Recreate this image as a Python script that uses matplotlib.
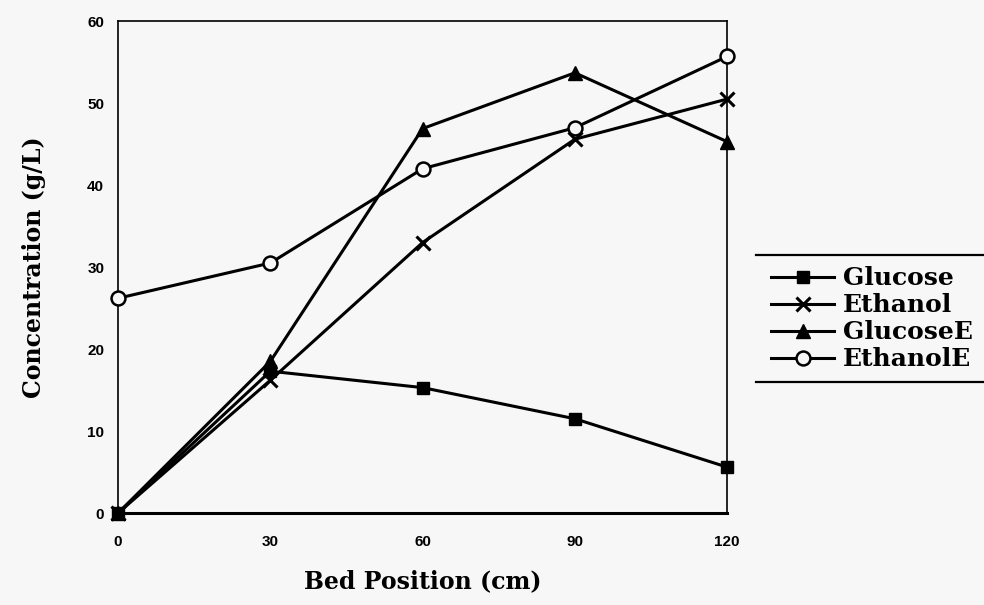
import matplotlib.pyplot as plt
from matplotlib.lines import Line2D

# bed position (cm)
bed_pos = [0, 30, 60, 90, 120]

# concentrations (g/L)
glucose = [0, 17.3, 15.3, 11.5, 5.6]
ethanol = [0, 16.2, 33.0, 45.6, 50.5]
glucose_e = [0, 18.5, 46.9, 53.7, 45.3]
ethanol_e = [26.2, 30.5, 42.0, 47.0, 55.7]

series_names = ['Glucose', 'Ethanol', 'GlucoseE', 'EthanolE']
y_ticks = [0, 10, 20, 30, 40, 50, 60]
x_ticks = [0, 30, 60, 90, 120]

serif = ['DejaVu Serif']
sans = ['Liberation Sans', 'DejaVu Sans']
bg = '#f7f7f7'

fig = plt.figure(figsize=(9.84, 6.05), dpi=100)
fig.patch.set_facecolor(bg)
ax = fig.add_axes([0.12, 0.152, 0.619, 0.813])
ax.set_facecolor(bg)

lw = 2.2
ax.plot(bed_pos, glucose, color='black', lw=lw, marker='s', ms=9,
        clip_on=False, label=series_names[0], zorder=3)
ax.plot(bed_pos, ethanol, color='black', lw=lw, marker='x', ms=10, mew=2.2,
        clip_on=False, label=series_names[1], zorder=3)
ax.plot(bed_pos, glucose_e, color='black', lw=lw, marker='^', ms=10,
        clip_on=False, label=series_names[2], zorder=3)
ax.plot(bed_pos, ethanol_e, color='black', lw=lw, marker='o', ms=10,
        mfc=bg, mew=1.8, clip_on=False, label=series_names[3], zorder=3)

ax.set_xlim(0, 120)
ax.set_ylim(0, 60)
ax.set_xticks(x_ticks)
ax.set_yticks(y_ticks)
ax.tick_params(length=0, labelsize=11)
ax.tick_params(axis='x', pad=16)
ax.tick_params(axis='y', pad=10)
for t in ax.get_xticklabels() + ax.get_yticklabels():
    t.set_family(sans)
    t.set_fontweight('bold')
for side in ['top', 'right', 'left']:
    ax.spines[side].set_linewidth(1.2)
ax.spines['bottom'].set_linewidth(2.2)

ax.set_xlabel('Bed Position (cm)', family=serif, fontweight='bold',
              fontsize=17)
ax.xaxis.set_label_coords(0.5, -0.115)
ax.set_ylabel('Concentration (g/L)', family=serif, fontweight='bold',
              fontsize=17)
ax.yaxis.set_label_coords(-0.118, 0.5)

leg = fig.legend(loc='center left', bbox_to_anchor=(0.784, 0.473),
                 frameon=False, handlelength=2.5, handletextpad=0.35,
                 labelspacing=0.12, borderaxespad=0.0, borderpad=0.0,
                 prop={'family': serif, 'weight': 'bold', 'size': 18})

# the scanned legend box only shows its top and bottom rules
fig.add_artist(Line2D([0.768, 1.0], [0.578, 0.578], color='black', lw=1.6))
fig.add_artist(Line2D([0.768, 1.0], [0.368, 0.368], color='black', lw=1.6))

fig.savefig('out.png', dpi=100, facecolor=fig.get_facecolor())
